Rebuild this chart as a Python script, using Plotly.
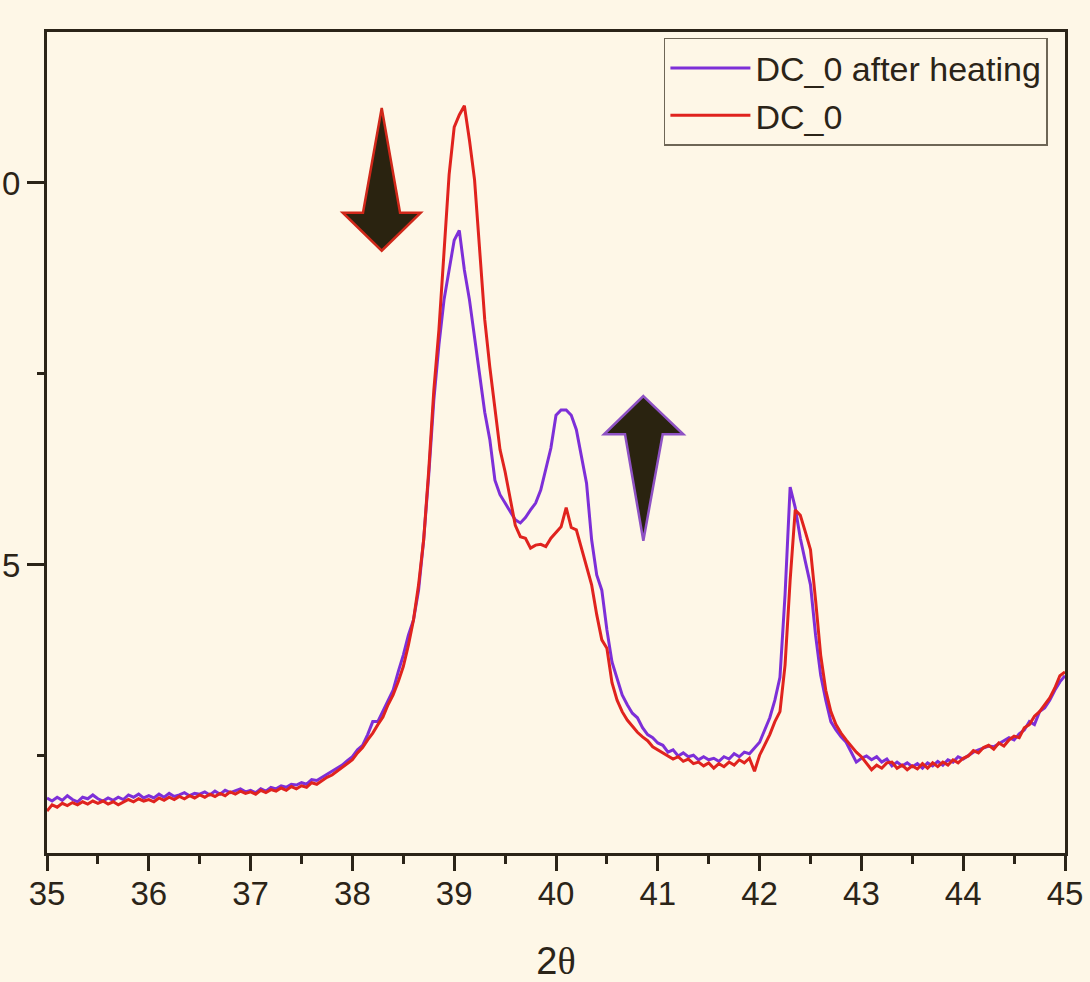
import plotly.graph_objects as go

# 2-theta grid (degrees), step 0.05 from 35.00 to 45.00
two_theta = [round(35 + 0.05 * i, 2) for i in range(201)]

# DC_0 after heating (purple)
after_heating = [
    1.95, 1.91, 1.96, 1.92, 1.98, 1.93, 1.90, 1.96, 1.94, 1.99,
    1.94, 1.91, 1.95, 1.92, 1.96, 1.93, 1.99, 1.96, 2.00, 1.95,
    1.98, 1.95, 2.00, 1.96, 2.01, 1.97, 1.99, 2.02, 1.98, 2.01,
    2.00, 2.03, 1.99, 2.04, 2.00, 2.05, 2.02, 2.04, 2.07, 2.03,
    2.05, 2.02, 2.07, 2.04, 2.09, 2.07, 2.11, 2.09, 2.13, 2.12,
    2.15, 2.13, 2.19, 2.18, 2.22, 2.26, 2.29, 2.34, 2.38, 2.44,
    2.49, 2.58, 2.64, 2.78, 2.95, 2.95, 3.08, 3.23, 3.36, 3.60,
    3.82, 4.08, 4.28, 4.67, 5.33, 6.18, 7.16, 7.88, 8.47, 8.86,
    9.25, 9.38, 8.86, 8.47, 8.01, 7.49, 7.00, 6.64, 6.11, 5.92,
    5.81, 5.69, 5.59, 5.55, 5.62, 5.72, 5.81, 5.98, 6.24, 6.53,
    6.96, 7.03, 7.03, 6.96, 6.77, 6.44, 6.07, 5.33, 4.87, 4.67,
    4.15, 3.73, 3.50, 3.30, 3.17, 3.06, 3.00, 2.87, 2.78, 2.74,
    2.67, 2.64, 2.55, 2.58, 2.50, 2.54, 2.49, 2.51, 2.45, 2.49,
    2.45, 2.47, 2.43, 2.49, 2.46, 2.53, 2.49, 2.55, 2.53, 2.61,
    2.68, 2.84, 3.00, 3.23, 3.53, 4.61, 6.02, 5.75, 5.35, 5.04,
    4.74, 4.08, 3.56, 3.23, 2.95, 2.84, 2.75, 2.68, 2.55, 2.42,
    2.47, 2.50, 2.45, 2.49, 2.42, 2.46, 2.37, 2.42, 2.37, 2.41,
    2.36, 2.40, 2.34, 2.41, 2.37, 2.43, 2.38, 2.45, 2.42, 2.49,
    2.46, 2.51, 2.55, 2.58, 2.61, 2.63, 2.62, 2.66, 2.70, 2.74,
    2.71, 2.79, 2.84, 2.95, 2.91, 3.08, 3.13, 3.23, 3.36, 3.47,
    3.55,
]

# DC_0 (red)
dc0 = [
    1.78, 1.86, 1.83, 1.88, 1.85, 1.89, 1.86, 1.90, 1.87, 1.91,
    1.88, 1.91, 1.87, 1.90, 1.86, 1.89, 1.93, 1.90, 1.94, 1.91,
    1.93, 1.90, 1.95, 1.92, 1.96, 1.93, 1.97, 1.94, 1.98, 1.95,
    1.99, 1.96, 2.00, 1.97, 2.01, 1.98, 2.03, 2.00, 2.04, 2.01,
    2.03, 2.00, 2.05, 2.02, 2.06, 2.04, 2.08, 2.05, 2.10, 2.07,
    2.11, 2.09, 2.15, 2.13, 2.18, 2.22, 2.25, 2.30, 2.34, 2.40,
    2.45, 2.54, 2.61, 2.71, 2.80, 2.91, 3.01, 3.17, 3.30, 3.47,
    3.67, 3.95, 4.28, 4.74, 5.33, 6.24, 7.29, 8.08, 9.06, 10.11,
    10.73, 10.89, 11.01, 10.56, 10.04, 9.12, 8.21, 7.59, 7.07, 6.51,
    6.22, 5.89, 5.52, 5.37, 5.35, 5.22, 5.26, 5.27, 5.24, 5.35,
    5.43, 5.50, 5.75, 5.49, 5.46, 5.22, 4.97, 4.74, 4.35, 4.02,
    3.91, 3.46, 3.23, 3.08, 2.97, 2.89, 2.81, 2.75, 2.70, 2.62,
    2.58, 2.54, 2.50, 2.46, 2.49, 2.43, 2.46, 2.40, 2.42, 2.37,
    2.41, 2.34, 2.40, 2.36, 2.42, 2.38, 2.45, 2.41, 2.47, 2.30,
    2.51, 2.64, 2.78, 2.95, 3.08, 3.69, 4.80, 5.72, 5.65, 5.43,
    5.20, 4.54, 3.82, 3.36, 3.08, 2.91, 2.80, 2.71, 2.63, 2.55,
    2.49, 2.41, 2.32, 2.38, 2.34, 2.41, 2.42, 2.34, 2.38, 2.32,
    2.37, 2.33, 2.40, 2.34, 2.41, 2.36, 2.42, 2.38, 2.45, 2.41,
    2.47, 2.50, 2.57, 2.54, 2.61, 2.64, 2.59, 2.67, 2.63, 2.71,
    2.76, 2.74, 2.87, 2.91, 3.02, 3.08, 3.17, 3.26, 3.39, 3.55,
    3.60,
]

x_ticks = [35, 36, 37, 38, 39, 40, 41, 42, 43, 44, 45]
y_ticks = [5, 10]
y_tick_labels = ["5", "0"]   # as visible in the (left-cropped) reference

BG = "#FEF7E7"
INK = "#2B2418"
PURPLE = "#7D2FD8"
RED = "#E0231E"
FONT = "Liberation Sans, Arial, sans-serif"

fig = go.Figure()
fig.add_trace(go.Scatter(x=two_theta, y=after_heating, mode="lines",
                         name="DC_0 after heating",
                         line=dict(color=PURPLE, width=3)))
fig.add_trace(go.Scatter(x=two_theta, y=dc0, mode="lines",
                         name="DC_0",
                         line=dict(color=RED, width=3)))

# decorative arrows (paper coordinates)
down_arrow = ("M 0.3288,0.9074 L 0.3468,0.7799 L 0.3671,0.7799 "
              "L 0.3288,0.7336 L 0.2905,0.7799 L 0.3104,0.7799 Z")
up_arrow = ("M 0.5858,0.5566 L 0.6251,0.5100 L 0.6048,0.5100 "
            "L 0.5858,0.3804 L 0.5678,0.5100 L 0.5472,0.5100 Z")
fig.add_shape(type="path", path=down_arrow, xref="paper", yref="paper",
              fillcolor="#2A2310", line=dict(color="#D0281A", width=2.5))
fig.add_shape(type="path", path=up_arrow, xref="paper", yref="paper",
              fillcolor="#2A2310", line=dict(color="#8E52C4", width=2.5))

fig.update_layout(
    width=1090, height=982,
    paper_bgcolor=BG, plot_bgcolor=BG,
    margin=dict(l=47, r=25, t=32, b=129, autoexpand=False),
    font=dict(family=FONT, color=INK, size=33),
    showlegend=True,
    legend=dict(x=0.606, y=0.9927, xanchor="left", yanchor="top",
                bgcolor=BG, bordercolor="#6E6656", borderwidth=1.5,
                font=dict(family=FONT, size=34, color=INK),
                itemwidth=80, tracegroupgap=0),
)
fig.update_xaxes(
    range=[35, 45], tickvals=x_ticks, ticks="outside", ticklen=15,
    tickwidth=2.5, tickcolor=INK, showline=True, linecolor=INK,
    linewidth=3, mirror=True, showgrid=False, zeroline=False,
    automargin=False, ticklabelstandoff=-6,
    tickfont=dict(family=FONT, size=33, color=INK),
    minor=dict(dtick=0.5, tick0=35, ticks="outside", ticklen=8,
               tickwidth=2.5, tickcolor=INK, showgrid=False),
    title=dict(text="2<span style='font-family:Liberation Serif'>θ</span>",
               font=dict(family=FONT, size=38, color=INK), standoff=40),
)
fig.update_yaxes(
    range=[1.23, 11.976], tickvals=y_ticks, ticktext=y_tick_labels,
    ticks="outside", ticklen=17,
    tickwidth=2.5, tickcolor=INK, showline=True, linecolor=INK,
    linewidth=3, mirror=True, showgrid=False, zeroline=False,
    automargin=False,
    tickfont=dict(family=FONT, size=33, color=INK),
    minor=dict(tickvals=[2.5, 7.5], ticks="outside", ticklen=7,
               tickwidth=2.5, tickcolor=INK, showgrid=False),
)

fig.write_html(
    "out.html",
    config={"displayModeBar": False},
    post_script="document.body.style.margin='0';"
                "document.body.style.background='#FEF7E7';",
)
